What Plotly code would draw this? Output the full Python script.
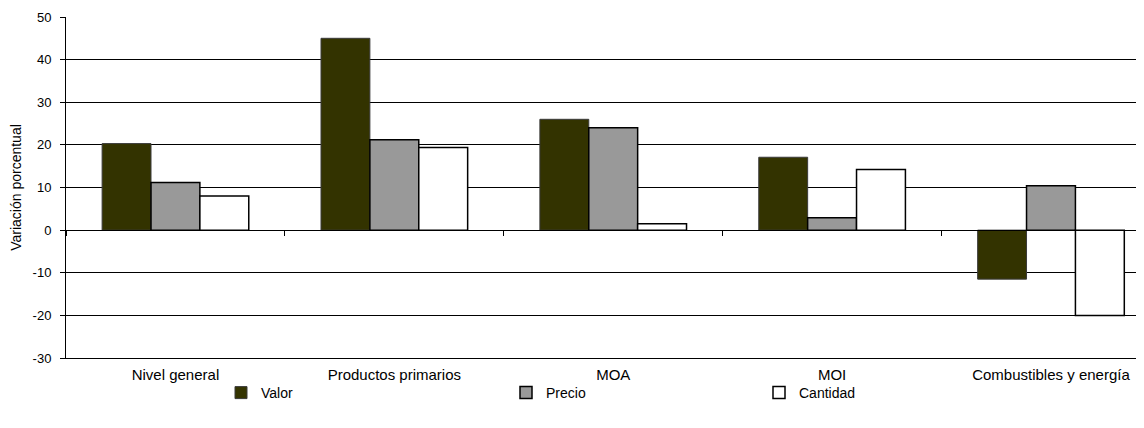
import plotly.graph_objects as go

categories = ["Nivel general", "Productos primarios", "MOA", "MOI", "Combustibles y energía"]
valor = [20.3, 45.0, 26.0, 17.1, -11.5]
precio = [11.2, 21.2, 24.0, 2.9, 10.4]
cantidad = [8.0, 19.4, 1.5, 14.2, -20.0]
y_ticks = [-30, -20, -10, 0, 10, 20, 30, 40, 50]
y_tick_text = ["-30", "-20", "-10", "0", "10", "20", "30", "40", "50"]

FONT = "Liberation Sans, Arial, sans-serif"

fig = go.Figure()
fig.add_trace(go.Bar(name="Valor", x=categories, y=valor,
                     marker=dict(color="#333300", line=dict(color="#3a3a3a", width=1)),
                     legend="legend"))
fig.add_trace(go.Bar(name="Precio", x=categories, y=precio,
                     marker=dict(color="#999999", line=dict(color="#000000", width=1.5)),
                     legend="legend2"))
fig.add_trace(go.Bar(name="Cantidad", x=categories, y=cantidad,
                     marker=dict(color="#ffffff", line=dict(color="#000000", width=1.5)),
                     legend="legend3"))
# helper trace for the zero-crossing category axis
fig.add_trace(go.Scatter(x=categories, y=[0] * len(categories), xaxis="x2", mode="lines",
                         line=dict(width=0), showlegend=False, hoverinfo="skip"))

# the page body has an 8px margin; the figure is sized to fill the rest of the window
OFF = 8
W, H = 1144 - OFF, 428 - OFF
L, R, T, B = 66 - OFF, 0, 17 - OFF, 70
pw = W - L - R

def px(xpage):
    return (xpage - OFF - L) / pw

leg_common = dict(orientation="h", yref="container", yanchor="middle",
                  y=(H - (393 - OFF)) / H,
                  xanchor="left", font=dict(family=FONT, size=14, color="#000"),
                  bgcolor="rgba(0,0,0,0)", itemwidth=30)

fig.update_layout(
    width=W, height=H,
    margin=dict(l=L, r=R, t=T, b=B, autoexpand=False),
    paper_bgcolor="white", plot_bgcolor="white",
    barmode="group", bargap=0.33, bargroupgap=0,
    font=dict(family=FONT, size=12, color="#000"),
    legend=dict(leg_common, x=px(221)),
    legend2=dict(leg_common, x=px(506)),
    legend3=dict(leg_common, x=px(759)),
    xaxis=dict(range=[-0.5, 4.425], showline=True, linecolor="#000", linewidth=1,
               ticks="", showgrid=False, tickfont=dict(family=FONT, size=15, color="#000"),
               ticklabelstandoff=3, automargin=False),
    xaxis2=dict(overlaying="x", matches="x", anchor="free", position=30 / 80,
                showline=True, linecolor="#000", linewidth=1, ticks="outside",
                tickson="boundaries", ticklen=5, tickcolor="#000", showticklabels=False,
                showgrid=False, zeroline=False, automargin=False),
    yaxis=dict(range=[-30, 50], tickvals=y_ticks, ticktext=y_tick_text,
               showgrid=True, gridcolor="#000", gridwidth=1, zeroline=False,
               showline=True, linecolor="#000", linewidth=1, ticks="outside",
               ticklen=5, tickcolor="#000", tickfont=dict(family=FONT, size=13, color="#000"),
               ticklabelstandoff=6, automargin=False,
               title=dict(text="Variación porcentual", font=dict(family=FONT, size=14, color="#000"),
                          standoff=14)),
)

fig.write_html("out.html")
